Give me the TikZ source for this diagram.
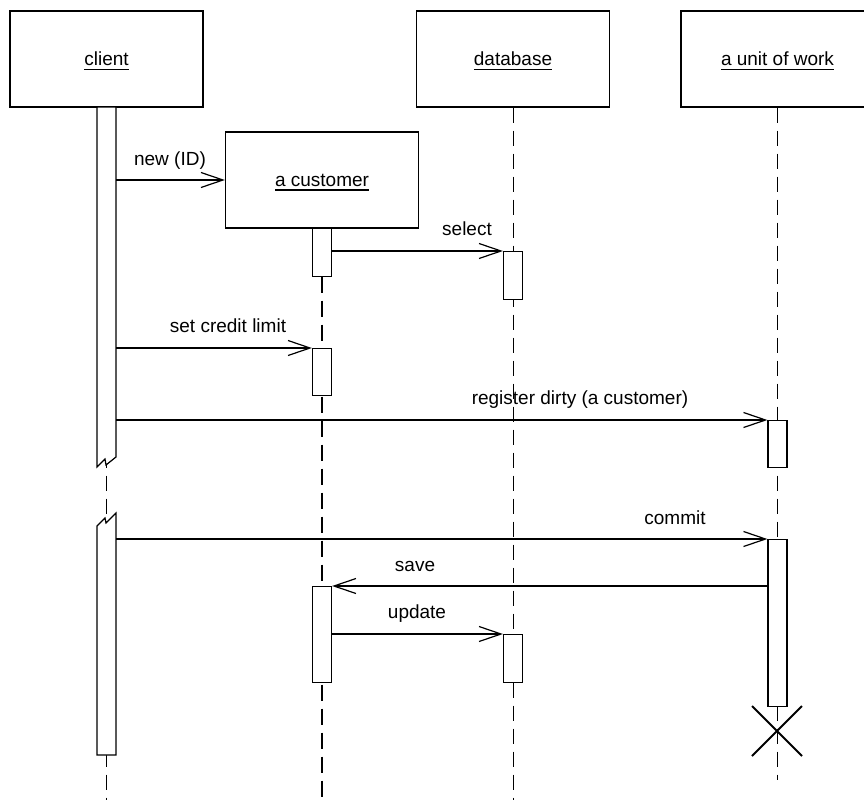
\documentclass[tikz,border=0pt]{standalone}
\usepackage{fontspec}
\setmainfont{Liberation Sans}
\newcommand\myul[1]{\setbox0\hbox{#1}\leavevmode\rlap{\copy0}\raisebox{-4.5pt}[0pt][0pt]{\rule{\wd0}{1.3pt}}}
\usetikzlibrary{arrows.meta}
\begin{document}
\begin{tikzpicture}[x=1pt,y=-1pt,
  obj/.style={draw, line width=1.3pt, minimum width=193pt, minimum height=96pt, inner sep=0pt, font=\fontsize{19}{22}\selectfont, fill=white},
  act/.style={draw, line width=1.2pt, fill=white, minimum width=19pt, inner sep=0pt, anchor=north},
  life/.style={line width=1pt, dash pattern=on 15pt off 8pt},
  lifebold/.style={line width=2.6pt, dash pattern=on 16pt off 8pt},
  msg/.style={line width=1.2pt, -{Straight Barb[length=22pt,width=15pt]}},
  lbl/.style={font=\fontsize{19}{22}\selectfont, anchor=base, inner sep=0pt},
  brk/.style={line width=1.2pt, fill=white, line join=miter},
]
\useasboundingbox (0,0) rectangle (864,801);

% objects
\node[obj] (client) at (106.5,59) {\myul{client}};
\node[obj] (db) at (513,59) {\myul{database}};
\node[obj] (uow) at (777.5,59) {\myul{a unit of work}};
\node[obj] (cust) at (322,180) {\myul{a customer}};

% lifelines
\draw[life] (client.south) -- (client.south |- 0,800);
\draw[lifebold] (cust.south) -- (cust.south |- 0,800);
\draw[life] (db.south) -- (db.south |- 0,800);
\draw[life] (uow.south) -- (uow.south |- 0,780);

% client activations with break
\draw[brk] (97,107) -- (97,467) -- (105,459) -- (106,465) -- (116,457) -- (116,107) -- cycle;
\draw[brk] (97,526) -- (105,518) -- (106,523) -- (116,513) -- (116,755) -- (97,755) -- cycle;
\coordinate (cR) at (116,300);

% other activations
\node[act, minimum height=48pt] (cua1) at (322,228) {};
\node[act, minimum height=47pt] (cua2) at (322,348) {};
\node[act, minimum height=96pt] (cua3) at (322,586) {};
\node[act, minimum height=48pt] (dba1) at (513,251) {};
\node[act, minimum height=48pt] (dba2) at (513,634) {};
\node[act, minimum height=47pt] (ua1) at (777.5,420) {};
\node[act, minimum height=167pt] (ua2) at (777.5,539) {};

% messages
\draw[msg] (cR |- cust.west) -- (cust.west);
\draw[msg] (cua1.east |- dba1.north west) -- (dba1.north west);
\draw[msg] (cR |- cua2.north west) -- (cua2.north west);
\draw[msg] (cR |- ua1.north west) -- (ua1.north west);
\draw[msg] (cR |- ua2.north west) -- (ua2.north west);
\draw[msg] (ua2.west |- cua3.north east) -- (cua3.north east);
\draw[msg] (cua3.east |- dba2.north west) -- (dba2.north west);

% labels
\node[lbl] (lnew) at (170,165) {new (ID)};
\node[lbl] (lsel) at (467,235) {select};
\node[lbl] (lset) at (228,332) {set credit limit};
\node[lbl] (lreg) at (580,404) {register dirty (a customer)};
\node[lbl] (lcom) at (675,524) {commit};
\node[lbl] (lsav) at (415,571) {save};
\node[lbl] (lupd) at (417,618) {update};

% destruction
\coordinate (xend) at (777,731);
\draw[line width=2pt] (xend) +(-25,-25) -- +(25,25) (xend) +(25,-25) -- +(-25,25);
\end{tikzpicture}
\end{document}
